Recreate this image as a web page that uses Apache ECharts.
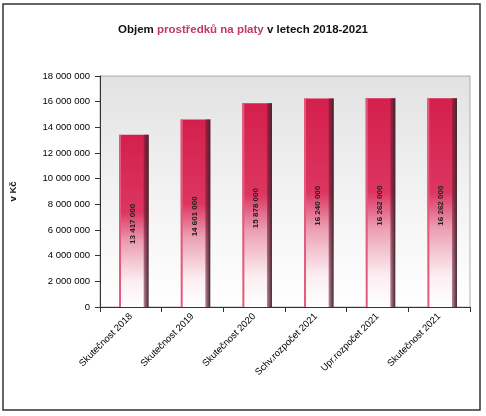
<!DOCTYPE html>
<html><head><meta charset="utf-8">
<script src="https://cdn.jsdelivr.net/npm/echarts@6/dist/echarts.min.js"></script>
<style>html,body{margin:0;padding:0;background:#fff}#c{width:486px;height:416px}</style>
</head><body><div id="c"></div>
<script>
const categories = ['Skutečnost 2018','Skutečnost 2019','Skutečnost 2020','Schv.rozpočet 2021','Upr.rozpočet 2021','Skutečnost 2021'];
const values = [13417000, 14601000, 15878000, 16240000, 16262000, 16262000];
const yTicks = [0, 2000000, 4000000, 6000000, 8000000, 10000000, 12000000, 14000000, 16000000, 18000000];

function fmt(v){ return String(Math.round(v)).replace(/\B(?=(\d{3})+(?!\d))/g,' '); }

const chart = echarts.init(document.getElementById('c'));
chart.setOption({
  animation:false,
  backgroundColor:'#fff',
  title:{
    text:'{a|Objem }{b|prostředků na platy}{a| v letech 2018-2021}',
    left:'center', top:19,
    textStyle:{rich:{
      a:{fontFamily:'Liberation Sans',fontWeight:'bold',fontSize:11.5,color:'#111'},
      b:{fontFamily:'Liberation Sans',fontWeight:'bold',fontSize:11.5,color:'#c0386c'}
    }}
  },
  graphic:[{type:'rect',shape:{x:3,y:4,width:477,height:406},style:{fill:'none',stroke:'#333',lineWidth:1.5},z:-1}],
  grid:{left:100,right:16,top:76,bottom:109,show:true,borderColor:'#999',borderWidth:0.8,
    backgroundColor:new echarts.graphic.LinearGradient(0,0,0,1,[{offset:0,color:'#e2e2e2'},{offset:0.5,color:'#f2f2f2'},{offset:1,color:'#ffffff'}])},
  xAxis:{type:'category',data:categories,
    axisLine:{lineStyle:{color:'#333',width:1}},axisTick:{show:true,lineStyle:{color:'#333'}},
    axisLabel:{rotate:45,fontFamily:'Liberation Sans',fontSize:9.5,color:'#000',interval:0,margin:8}},
  yAxis:{type:'value',min:0,max:18000000,interval:2000000,name:'v Kč',nameLocation:'middle',nameGap:82,nameRotate:90,
    nameTextStyle:{fontFamily:'Liberation Sans',fontSize:9.5,color:'#111',fontWeight:'bold'},
    axisLine:{show:true,lineStyle:{color:'#333'}},axisTick:{show:true,lineStyle:{color:'#333'}},
    splitLine:{show:false},
    axisLabel:{fontFamily:'Liberation Sans',fontSize:9.5,color:'#000',margin:10,formatter:v=>fmt(v)}},
  series:[{
    type:'custom',
    data:values.map((v,i)=>[i,v]),
    encode:{x:0,y:1},
    renderItem:function(params,api){
      const i=api.value(0), v=api.value(1);
      const top=api.coord([i,v]); const bot=api.coord([i,0]);
      const w=api.size([1,0])[0]*0.48;
      const x0=top[0]-w/2+3;
      const h=bot[1]-top[1];
      const side=5;
      return {type:'group',children:[
        {type:'rect',shape:{x:x0,y:top[1],width:w,height:h},
          style:{fill:new echarts.graphic.LinearGradient(0,0,0,1,[
            {offset:0,color:'#d41f4c'},{offset:0.45,color:'#dc3660'},{offset:0.62,color:'#eb9db2'},{offset:0.85,color:'#fbeef2'},{offset:1,color:'#ffffff'}])}},
        {type:'rect',shape:{x:x0,y:top[1],width:2,height:h},style:{fill:'#e45a7c'}},
        {type:'rect',shape:{x:x0+w-side,y:top[1],width:side,height:h},
          style:{fill:new echarts.graphic.LinearGradient(0,0,1,0,[{offset:0,color:'rgba(120,20,50,0.5)'},{offset:1,color:'#3a2a30'}])}},
        {type:'text',x:top[0]+2,y:(top[1]+bot[1])/2+3,rotation:Math.PI/2,
          style:{text:fmt(v),fontFamily:'Liberation Sans',fontSize:8,fontWeight:'bold',fill:'#222',align:'center',verticalAlign:'middle'}}
      ]};
    }
  }]
});
</script></body></html>
